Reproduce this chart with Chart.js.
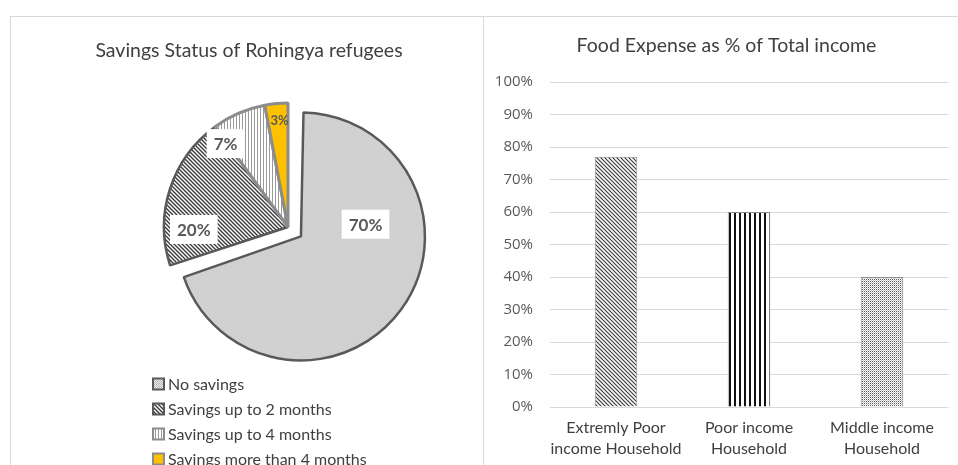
<!DOCTYPE html>
<html>
<head>
<meta charset="utf-8">
<script src="https://cdn.jsdelivr.net/npm/chart.js@4.4.0/dist/chart.umd.min.js"></script>
<style>
html, body { margin: 0; padding: 0; background: #fff; width: 958px; height: 465px; overflow: hidden; }
.panel { position: absolute; border-left: 1px solid #d9d9d9; border-top: 1px solid #d9d9d9; background: #fff; }
#left { left: 10px; top: 16px; width: 473px; height: 460px; }
#right { left: 483px; top: 16px; width: 480px; height: 460px; }
canvas { position: absolute; left: 0; top: 0; }
</style>
</head>
<body>
<div class="panel" id="left"><canvas id="pie" width="472" height="448"></canvas></div>
<div class="panel" id="right"><canvas id="bar" width="474" height="448"></canvas></div>
<script>
// data
const pieTitle = 'Savings Status of Rohingya refugees'
const pieLabels = ['No savings', 'Savings up to 2 months', 'Savings up to 4 months', 'Savings more than 4 months']
const pieValues = [70, 20, 7, 3]

const barTitle = 'Food Expense as % of Total income'
const barCategories = [['Extremly Poor', 'income Household'], ['Poor income', 'Household'], ['Middle income', 'Household']]
const barValues = [77, 60, 40]

Chart.defaults.font.family = 'Lato'
Chart.defaults.color = '#595959'

function makePattern(w, h, paint) {
    const c = document.createElement('canvas')
    c.width = w
    c.height = h
    const g = c.getContext('2d')
    g.fillStyle = '#fff'
    g.fillRect(0, 0, w, h)
    paint(g, w, h)
    return g.createPattern(c, 'repeat')
}

function diagonal(color, size, lw) {
    return makePattern(size, size, (g, w, h) => {
        g.strokeStyle = color
        g.lineWidth = lw
        g.beginPath()
        g.moveTo(-1, -1); g.lineTo(w + 1, h + 1)
        g.moveTo(-1, h - 1); g.lineTo(1, h + 1)
        g.moveTo(w - 1, -1); g.lineTo(w + 1, 1)
        g.stroke()
    })
}

function vertical(color, size, lw) {
    return makePattern(size, 1, (g, w, h) => {
        g.fillStyle = color
        g.fillRect(0, 0, lw, h)
    })
}

const checker = makePattern(2, 2, g => {
    g.fillStyle = '#f0f0f0'
    g.fillRect(0, 0, 2, 2)
    g.fillStyle = '#b2b2b2'
    g.fillRect(0, 0, 1, 1)
    g.fillRect(1, 1, 1, 1)
})

const dots = makePattern(2, 2, g => {
    g.fillStyle = '#5a5a5a'
    g.fillRect(0, 0, 1, 1)
    g.fillStyle = '#c4c4c4'
    g.fillRect(1, 1, 1, 1)
})

const pieFills = [checker, diagonal('#3a3a3a', 4, 1.4), vertical('#9a9a9a', 3, 1), '#ffc000']
const pieBorders = ['#595959', '#595959', '#8c8c8c', '#8c8c8c']

// chart.js grows an offset arc by offset/4, pull it back so the exploded slice keeps its size
const keepRadius = {
    id: 'keepRadius',
    afterDatasetUpdate(chart, args) {
        args.meta.data.forEach(arc => {
            const off = (arc.options && arc.options.offset) || 0
            if (off) arc.outerRadius -= off / 4
        })
    }
}

const pieText = {
    id: 'pieText',
    afterDatasetsDraw(chart, args, opts) {
        const ctx = chart.ctx
        const meta = chart.getDatasetMeta(0)
        ctx.save()
        meta.data.forEach((arc, i) => {
            const mid = (arc.startAngle + arc.endAngle) / 2
            const off = (arc.options.offset || 0) / 4
            const cx = arc.x + Math.cos(mid) * off
            const cy = arc.y + Math.sin(mid) * off
            const a = mid + opts.shift[i] * Math.PI / 180
            const r = opts.radius * opts.dist[i]
            const x = cx + Math.cos(a) * r
            const y = cy + Math.sin(a) * r
            const text = pieValues[i] + '%'
            ctx.font = 'bold ' + opts.size[i] + 'px Lato'
            const w = ctx.measureText(text).width
            if (opts.boxed[i]) {
                ctx.fillStyle = '#fff'
                ctx.fillRect(x - w / 2 - 7, y - 14.5, w + 14, 29)
            }
            ctx.fillStyle = '#595959'
            ctx.textAlign = 'center'
            ctx.textBaseline = 'middle'
            ctx.fillText(text, x, y + 1)
        })
        ctx.restore()
    }
}

// chart title drawn where the reference puts it (not centred over the plot)
const panelTitle = {
    id: 'panelTitle',
    afterDraw(chart, args, opts) {
        const ctx = chart.ctx
        ctx.save()
        ctx.fillStyle = '#404040'
        ctx.textAlign = 'center'
        ctx.textBaseline = 'middle'
        ctx.font = opts.size + 'px Lato'
        ctx.fillText(opts.text, opts.x, opts.y)
        ctx.restore()
    }
}

const pieLegend = {
    id: 'pieLegend',
    afterDraw(chart, args, opts) {
        const ctx = chart.ctx
        const ds = chart.data.datasets[0]
        ctx.save()
        ctx.textAlign = 'left'
        ctx.textBaseline = 'middle'
        ctx.font = opts.size + 'px Lato'
        chart.data.labels.forEach((label, i) => {
            const y = opts.y + i * opts.step
            ctx.fillStyle = ds.backgroundColor[i]
            ctx.fillRect(opts.x, y - 5.5, 11, 11)
            ctx.strokeStyle = i < 2 ? '#595959' : '#8c8c8c'
            ctx.lineWidth = 2
            ctx.strokeRect(opts.x, y - 5.5, 11, 11)
            ctx.fillStyle = '#404040'
            ctx.fillText(label, opts.x + 15, y + 1)
        })
        ctx.restore()
    }
}

new Chart(document.getElementById('pie'), {
    type: 'pie',
    data: {
        labels: pieLabels,
        datasets: [{
            data: pieValues,
            backgroundColor: pieFills,
            borderColor: pieBorders,
            borderWidth: [2.5, 2.5, 3, 3],
            offset: [64, 0, 0, 0]
        }]
    },
    options: {
        responsive: false,
        animation: false,
        radius: 124,
        layout: { padding: { left: 100, right: 18, top: 40, bottom: 68 } },
        plugins: {
            legend: { display: false },
            tooltip: { enabled: false },
            pieText: {
                radius: 124,
                shift: [-46.7, -19.5, -13.4, 0.9],
                dist: [0.53, 0.76, 0.84, 0.87],
                size: [17, 17, 17, 13],
                boxed: [true, true, true, false]
            },
            panelTitle: { text: pieTitle, x: 238, y: 33.5, size: 19.5 },
            pieLegend: { x: 142, y: 367, step: 25, size: 16 }
        }
    },
    plugins: [keepRadius, pieText, panelTitle, pieLegend]
})

new Chart(document.getElementById('bar'), {
    type: 'bar',
    data: {
        labels: barCategories,
        datasets: [{
            data: barValues,
            backgroundColor: [diagonal('#3a3a3a', 4, 1.2), vertical('#111', 5, 2), dots],
            borderColor: '#8c8c8c',
            borderWidth: 1,
            categoryPercentage: 1,
            barPercentage: 0.32
        }]
    },
    options: {
        responsive: false,
        animation: false,
        layout: { padding: { left: 0, right: 9.5, top: 65, bottom: 0 } },
        plugins: {
            legend: { display: false },
            tooltip: { enabled: false },
            panelTitle: { text: barTitle, x: 242.5, y: 29, size: 19.5 }
        },
        scales: {
            x: {
                grid: { display: false, drawTicks: false },
                border: { display: false },
                ticks: {
                    padding: 10.5, color: '#404040', font: { size: 16, lineHeight: 1.3 },
                    maxRotation: 0, minRotation: 0, autoSkip: false
                },
                afterFit: s => { s.height = 58 }
            },
            y: {
                min: 0,
                max: 100,
                grid: { color: '#d9d9d9', drawTicks: false },
                border: { display: false },
                ticks: { stepSize: 10, padding: 16.5, color: '#595959', font: { family: 'Open Sans', size: 15 }, callback: v => v + '%' },
                afterFit: s => { s.width = 65.5 }
            }
        }
    },
    plugins: [panelTitle]
})
</script>
</body>
</html>
